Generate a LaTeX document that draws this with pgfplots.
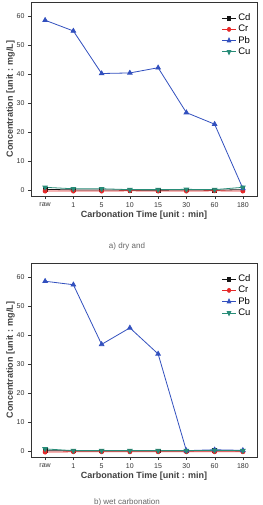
\documentclass[border=0pt]{standalone}
\usepackage{pgfplots}
\pgfplotsset{compat=1.18}
\usepackage{fontspec}
\setmainfont{Liberation Sans}
\definecolor{cdcol}{RGB}{20,20,20}
\definecolor{crcol}{RGB}{230,40,40}
\definecolor{pbcol}{RGB}{50,80,190}
\definecolor{cucol}{RGB}{40,140,120}
\pgfplotsset{
  conc/.style={
    scale only axis, width=226pt, height=194pt,
    xmin=-0.5, xmax=7.5, ymin=-2, ymax=65,
    xtick={0,...,7},
    xticklabels={raw,1,5,10,15,30,60,180},
    ytick={0,10,20,30,40,50,60},
    tick align=outside, tick pos=left,
    major tick length=3pt,
    axis line style={black!80, line width=0.8pt},
    tick style={black!80},
    ticklabel style={font=\fontsize{7}{8}\selectfont, text=black!80},
    /pgf/number format/assume math mode=true,
    xlabel={\textbf{Carbonation Time [unit : min]}},
    ylabel={\textbf{Concentration [unit : mg/L]}},
    label style={font=\fontsize{9}{10}\selectfont, text=black!75},
    xlabel style={yshift=3pt},
    ylabel style={yshift=-5pt},
    legend style={draw=none, fill=none, at={(0.985,0.955)}, anchor=north east,
      font=\fontsize{9.5}{10}\selectfont, row sep=-1pt, inner sep=1pt},
    legend cell align=left,
    legend image post style={xscale=0.8},
    every axis plot/.append style={line width=0.8pt, mark size=2pt},
  },
  cd/.style={cdcol, mark=square*, mark size=1.8pt},
  cr/.style={crcol, mark=*},
  pb/.style={pbcol, mark=triangle*, mark size=2.6pt},
  cu/.style={cucol, mark=triangle*, mark options={rotate=180}, mark size=2.6pt},
}
\begin{document}
\begin{tikzpicture}
\path[use as bounding box] (0,0) rectangle (262pt,-505pt);
% dry carbonation
\begin{axis}[conc, at={(31pt,-196pt)}, anchor=south west]
\addplot[cd] coordinates {(0,0.3) (1,0.1) (2,0.1) (3,0.0) (4,0.0) (5,0.1) (6,0.0) (7,0.2)};
\addplot[cr] coordinates {(0,-0.3) (1,-0.3) (2,-0.3) (3,-0.2) (4,-0.3) (5,-0.3) (6,-0.2) (7,-0.3)};
\addplot[pb] coordinates {(0,58.7) (1,55.0) (2,40.3) (3,40.5) (4,42.3) (5,26.8) (6,22.8) (7,0.6)};
\addplot[cu] coordinates {(0,1.0) (1,0.5) (2,0.5) (3,0.2) (4,0.2) (5,0.3) (6,0.2) (7,1.0)};
\legend{Cd,Cr,Pb,Cu}
\end{axis}
\node[font=\fontsize{8}{9}\selectfont, text=black!60] at (127pt,-246pt) {a) dry and};
% wet carbonation
\begin{axis}[conc, at={(31pt,-457pt)}, anchor=south west]
\addplot[cd] coordinates {(0,0.2) (1,0.1) (2,0.1) (3,0.1) (4,0.1) (5,0.1) (6,0.2) (7,0.1)};
\addplot[cr] coordinates {(0,-0.3) (1,-0.2) (2,-0.2) (3,-0.2) (4,-0.2) (5,-0.2) (6,-0.2) (7,-0.2)};
\addplot[pb] coordinates {(0,58.7) (1,57.5) (2,36.9) (3,42.6) (4,33.6) (5,0.2) (6,0.5) (7,0.3)};
\addplot[cu] coordinates {(0,0.8) (1,0.2) (2,0.2) (3,0.2) (4,0.2) (5,0.2) (6,0.3) (7,0.2)};
\legend{Cd,Cr,Pb,Cu}
\end{axis}
\node[font=\fontsize{8}{9}\selectfont, text=black!60] at (127pt,-502pt) {b) wet carbonation};
\end{tikzpicture}
\end{document}
